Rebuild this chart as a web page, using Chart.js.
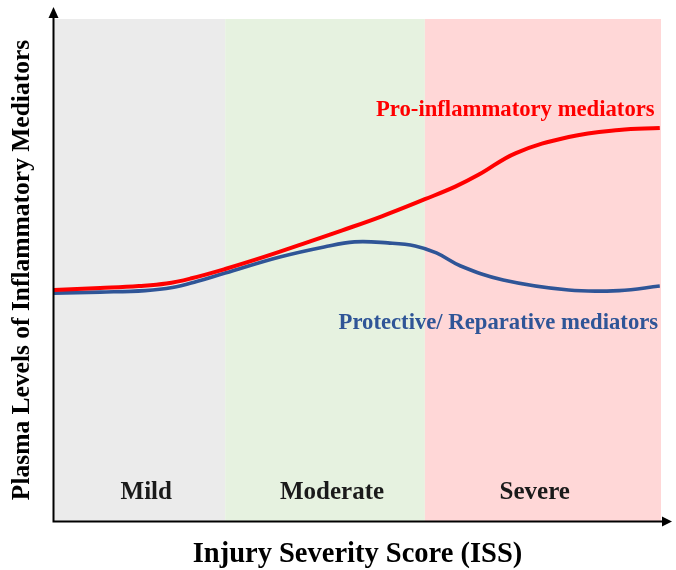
<!DOCTYPE html>
<html>
<head>
<meta charset="utf-8">
<script src="https://cdn.jsdelivr.net/npm/chart.js@4.4.1/dist/chart.umd.min.js"></script>
<style>
  html, body { margin: 0; padding: 0; background: #fff; }
  #wrap { width: 676px; height: 570px; }
</style>
</head>
<body>
<div id="wrap"><canvas id="issChart"></canvas></div>
<script>
  // severity bands (x in % of ISS axis)
  const bandNames = ['Mild', 'Moderate', 'Severe'];
  const bandEdges = [0, 28.2, 61.1, 100];
  const bandLabelX = [15.2, 45.8, 79.2];
  const bandLabelY = 5.6;

  const seriesNames = ['Pro-inflammatory mediators', 'Protective/ Reparative mediators'];
  const seriesLabelX = [76.0, 73.2];
  const seriesLabelY = [80.7, 38.2];

  const proX = [0, 7.6, 14.0, 18.5, 22.5, 28.2, 34.6, 41.0, 47.5, 54.0, 61.1, 66.1, 70.0, 76.1, 84.8, 93.1, 99.8];
  const proLevel = [46.0, 46.4, 46.8, 47.3, 48.3, 50.2, 52.6, 55.2, 57.9, 60.7, 64.1, 66.6, 69.0, 73.3, 76.5, 77.9, 78.3];

  const protX = [0, 7.6, 15.0, 19.5, 23.5, 28.2, 37.2, 44.5, 49.5, 55.0, 59.5, 63.0, 67.0, 74.0, 84.8, 93.1, 99.8];
  const protLevel = [45.4, 45.6, 45.9, 46.5, 47.7, 49.4, 52.6, 54.6, 55.6, 55.4, 54.8, 53.4, 50.8, 48.0, 46.0, 45.9, 46.8];

  const bandColors = ['#ebebeb', '#e6f2e0', '#ffd7d7'];
  const serif = "'Liberation Serif', 'Times New Roman', serif";

  function toPoints(xs, ys) {
    return xs.map((x, i) => ({ x, y: ys[i] }));
  }

  const diagramPlugin = {
    id: 'diagram',
    beforeDatasetsDraw(chart) {
      const { ctx, chartArea, scales } = chart;
      ctx.save();
      for (let i = 0; i < bandNames.length; i++) {
        const x0 = scales.x.getPixelForValue(bandEdges[i]);
        const x1 = scales.x.getPixelForValue(bandEdges[i + 1]);
        ctx.fillStyle = bandColors[i];
        ctx.fillRect(x0, chartArea.top, x1 - x0, chartArea.bottom - chartArea.top);
      }
      ctx.font = `bold 25px ${serif}`;
      ctx.fillStyle = '#1a1a1a';
      ctx.textAlign = 'center';
      ctx.textBaseline = 'middle';
      bandNames.forEach((name, i) => {
        ctx.fillText(name, scales.x.getPixelForValue(bandLabelX[i]), scales.y.getPixelForValue(bandLabelY));
      });
      ctx.restore();
    },
    afterDatasetsDraw(chart) {
      const { ctx, chartArea, scales } = chart;
      ctx.save();
      // axes with arrows
      const ax = chartArea.left - 0.5;
      const ay = chartArea.bottom + 0.5;
      ctx.strokeStyle = '#000';
      ctx.fillStyle = '#000';
      ctx.lineWidth = 2;
      ctx.beginPath();
      ctx.moveTo(ax, ay + 1);
      ctx.lineTo(ax, chartArea.top - 4);
      ctx.moveTo(ax - 1, ay);
      ctx.lineTo(chartArea.right + 3, ay);
      ctx.stroke();
      ctx.beginPath();
      ctx.moveTo(ax, chartArea.top - 12);
      ctx.lineTo(ax - 5, chartArea.top - 1);
      ctx.lineTo(ax + 5, chartArea.top - 1);
      ctx.closePath();
      ctx.fill();
      ctx.beginPath();
      ctx.moveTo(chartArea.right + 11, ay);
      ctx.lineTo(chartArea.right + 1, ay - 5);
      ctx.lineTo(chartArea.right + 1, ay + 5);
      ctx.closePath();
      ctx.fill();

      ctx.font = `bold 22.7px ${serif}`;
      ctx.textAlign = 'center';
      ctx.textBaseline = 'alphabetic';
      seriesNames.forEach((name, i) => {
        ctx.fillStyle = chart.data.datasets[i].borderColor;
        ctx.fillText(name, scales.x.getPixelForValue(seriesLabelX[i]), scales.y.getPixelForValue(seriesLabelY[i]));
      });
      ctx.restore();
    },
  };

  new Chart(document.getElementById('issChart'), {
    type: 'line',
    data: {
      datasets: [
        {
          label: seriesNames[0],
          data: toPoints(proX, proLevel),
          borderColor: '#ff0000',
          borderWidth: 4,
          pointRadius: 0,
          tension: 0.4,
        },
        {
          label: seriesNames[1],
          data: toPoints(protX, protLevel),
          borderColor: '#2f5597',
          borderWidth: 3.6,
          pointRadius: 0,
          tension: 0.4,
        },
      ],
    },
    options: {
      responsive: true,
      maintainAspectRatio: false,
      animation: false,
      layout: { padding: { top: 19, right: 15, left: 0, bottom: 0 } },
      plugins: { legend: { display: false }, tooltip: { enabled: false } },
      scales: {
        x: {
          type: 'linear',
          min: 0,
          max: 100,
          ticks: { display: false },
          grid: { display: false, drawTicks: false },
          border: { display: false },
          title: {
            display: true,
            text: 'Injury Severity Score (ISS)',
            color: '#000',
            font: { family: serif, size: 28.5, weight: 'bold', lineHeight: 1 },
            padding: { top: 0, bottom: 1 },
          },
          afterFit(scale) { scale.height = 49; },
        },
        y: {
          type: 'linear',
          min: 0,
          max: 100,
          ticks: { display: false },
          grid: { display: false, drawTicks: false },
          border: { display: false },
          title: {
            display: true,
            text: 'Plasma Levels of Inflammatory Mediators',
            color: '#000',
            font: { family: serif, size: 25.5, weight: 'bold', lineHeight: 1 },
            padding: { top: 10, bottom: 0 },
          },
          afterFit(scale) { scale.width = 54; },
        },
      },
    },
    plugins: [diagramPlugin],
  });
</script>
</body>
</html>
